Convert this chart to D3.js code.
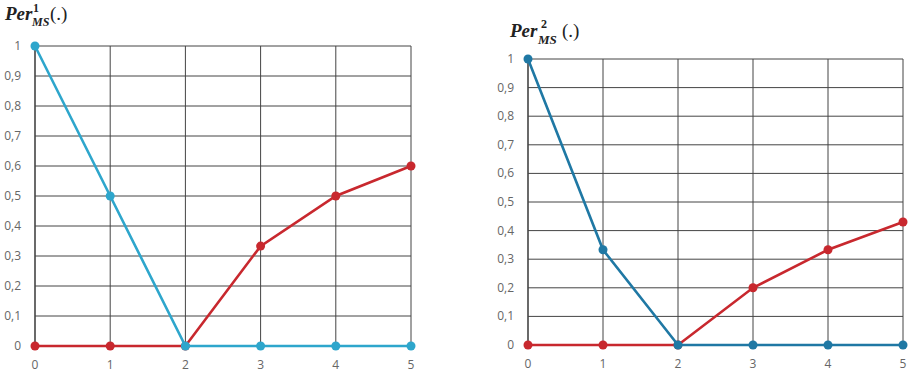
<!DOCTYPE html>
<html>
<head>
<meta charset="utf-8">
<script src="https://cdn.jsdelivr.net/npm/d3@7"></script>
<style>
  body { margin: 0; background: #fff; }
  .tick-label { font-family: "Open Sans", "DejaVu Sans", sans-serif; font-size: 12px; fill: #666; }
  .title { font-family: "Liberation Serif", serif; fill: #222; }
</style>
</head>
<body>
<svg id="chart" width="918" height="375"></svg>
<script>
// data
const xCats = [0, 1, 2, 3, 4, 5];
const yTicks = [0, 0.1, 0.2, 0.3, 0.4, 0.5, 0.6, 0.7, 0.8, 0.9, 1];

const blue1 = [1, 0.5, 0, 0, 0, 0];
const red1  = [0, 0, 0, 0.333, 0.5, 0.6];
const blue2 = [1, 0.333, 0, 0, 0, 0];
const red2  = [0, 0, 0, 0.2, 0.333, 0.43];

const svg = d3.select("#chart");
const fmt = d => d3.format("")(d).replace(".", ",");

function drawPanel(cfg) {
    let g = svg.append("g");

    let x = d3.scaleLinear().domain([0, 5]).range([cfg.left, cfg.right]);
    let y = d3.scaleLinear().domain([0, 1]).range([cfg.bottom, cfg.top]);

    // grid
    g.selectAll(".hgrid").data(yTicks).enter().append("line")
        .attr("x1", cfg.left).attr("x2", cfg.right)
        .attr("y1", d => y(d)).attr("y2", d => y(d))
        .attr("stroke", "#444").attr("stroke-width", 1);
    g.selectAll(".vgrid").data(xCats).enter().append("line")
        .attr("x1", d => x(d)).attr("x2", d => x(d))
        .attr("y1", cfg.top).attr("y2", cfg.bottom)
        .attr("stroke", "#444").attr("stroke-width", d => d === 0 ? 1.6 : 1);

    // tick labels
    g.selectAll(".ylab").data(yTicks).enter().append("text")
        .attr("class", "tick-label")
        .attr("x", cfg.left - 14).attr("y", d => y(d) + 4)
        .attr("text-anchor", "end")
        .text(fmt);
    g.selectAll(".xlab").data(xCats).enter().append("text")
        .attr("class", "tick-label")
        .attr("x", d => x(d)).attr("y", cfg.bottom + 23)
        .attr("text-anchor", "middle")
        .text(d => d);

    let line = d3.line().x((d, i) => x(xCats[i])).y(d => y(d));

    [[cfg.red, "#c8282e"], [cfg.blue, cfg.blueColor]].forEach(([vals, col]) => {
        g.append("path").datum(vals)
            .attr("d", line)
            .attr("fill", "none")
            .attr("stroke", col)
            .attr("stroke-width", 2.6);
        g.selectAll(null).data(vals).enter().append("circle")
            .attr("cx", (d, i) => x(xCats[i]))
            .attr("cy", d => y(d))
            .attr("r", 4.5)
            .attr("fill", col);
    });

    // title: Per, superscript index, subscript MS, (.)
    let t = cfg.title;
    g.append("text").attr("class", "title")
        .attr("x", t.x).attr("y", t.y)
        .attr("font-size", t.size).attr("font-weight", "bold").attr("font-style", "italic")
        .text("Per");
    g.append("text").attr("class", "title")
        .attr("x", t.supX).attr("y", t.supY)
        .attr("font-size", 12).attr("font-weight", "bold")
        .text(cfg.sup);
    g.append("text").attr("class", "title")
        .attr("x", t.subX).attr("y", t.subY)
        .attr("font-size", t.subSize).attr("font-weight", "bold").attr("font-style", "italic")
        .text("MS");
    g.append("text").attr("class", "title")
        .attr("x", t.parX).attr("y", t.y)
        .attr("font-size", t.size)
        .text("(.)");
}

drawPanel({left: 35, right: 411, top: 46, bottom: 346, red: red1, blue: blue1,
    blueColor: "#2ea6cc", sup: "1",
    title: {x: 5, y: 20, size: 19, supX: 33, supY: 12, subX: 32, subY: 26, subSize: 12, parX: 50}});
drawPanel({left: 528, right: 903, top: 59, bottom: 345, red: red2, blue: blue2,
    blueColor: "#1f78a4", sup: "2",
    title: {x: 510, y: 37, size: 19, supX: 541, supY: 28, subX: 538, subY: 44, subSize: 13, parX: 562}});
</script>
</body>
</html>
